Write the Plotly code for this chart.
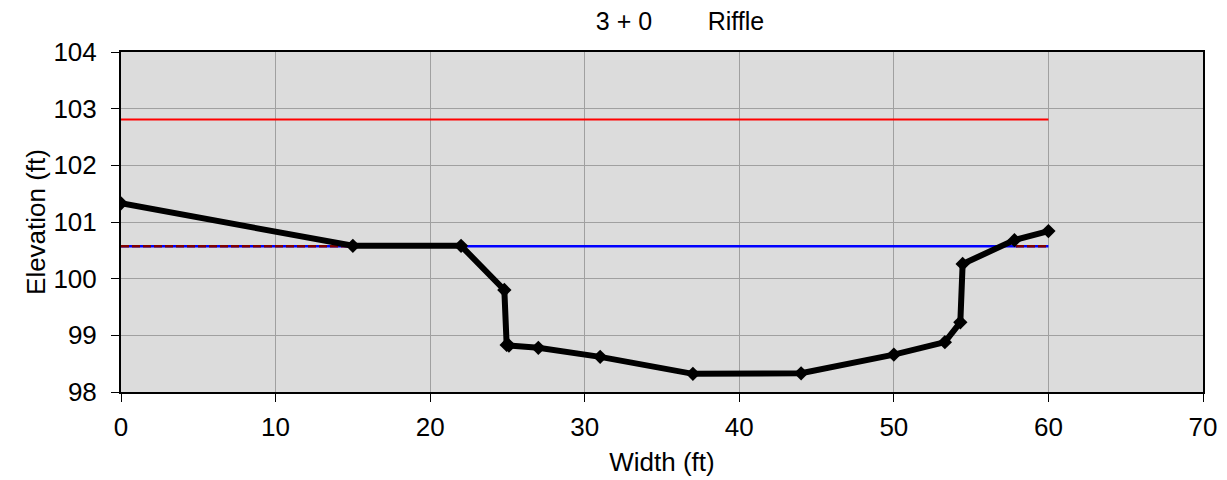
import plotly.graph_objects as go

station = [0, 15, 22, 24.8, 24.95, 25.1, 27, 31, 37, 44, 50, 53.3, 54.3, 54.45, 57.8, 60]
elevation = [101.33, 100.58, 100.58, 99.80, 98.83, 98.82, 98.78, 98.62, 98.32, 98.33, 98.66, 98.88, 99.23, 100.26, 100.68, 100.84]

water_x = [0, 60]
water_y = [100.57, 100.57]
flood_x = [0, 60]
flood_y = [102.81, 102.81]
bank_x = [0, 22, None, 57.9, 60]
bank_y = [100.57, 100.57, None, 100.57, 100.57]

x_ticks = [0, 10, 20, 30, 40, 50, 60, 70]
y_ticks = [98, 99, 100, 101, 102, 103, 104]

fig = go.Figure()
fig.add_trace(go.Scatter(x=flood_x, y=flood_y, mode="lines", line=dict(color="#ff0000", width=2), showlegend=False))
fig.add_trace(go.Scatter(x=water_x, y=water_y, mode="lines", line=dict(color="#0000ff", width=2.5), showlegend=False))
fig.add_trace(go.Scatter(x=bank_x, y=bank_y, mode="lines", line=dict(color="#800000", width=2.5, dash="8px,3px"), showlegend=False))
fig.add_trace(go.Scatter(x=station, y=elevation, mode="lines+markers",
                         line=dict(color="black", width=6),
                         marker=dict(symbol="diamond", size=11, color="black"),
                         showlegend=False))

fig.update_layout(
    width=1219, height=472,
    margin=dict(l=113, r=24, t=44, b=88),
    paper_bgcolor="white", plot_bgcolor="#dcdcdc",
    font=dict(family="Liberation Sans, Arial, sans-serif", color="black"),
    title=dict(text="3 + 0" + "\u00a0" * 8 + "Riffle", x=(680 - 8) / 1219, xanchor="center",
               y=1 - (21 - 8) / 472, yanchor="middle", font=dict(size=25)),
)
fig.update_xaxes(range=[0, 70], tickvals=x_ticks, showgrid=True, gridcolor="#a0a0a0", gridwidth=1,
                 showline=True, linecolor="black", linewidth=2, mirror=True, ticks="outside",
                 ticklen=8, tickwidth=1, tickcolor="black", tickfont=dict(size=26), zeroline=False,
                 ticklabelstandoff=3, automargin=False,
                 title=dict(text="Width (ft)", font=dict(size=26), standoff=12))
fig.update_yaxes(range=[98, 104], tickvals=y_ticks, showgrid=True, gridcolor="#a0a0a0", gridwidth=1,
                 showline=True, linecolor="black", linewidth=2, mirror=True, ticks="outside",
                 ticklen=8, tickwidth=1, tickcolor="black", tickfont=dict(size=26), zeroline=False,
                 ticklabelstandoff=9, automargin=False,
                 title=dict(text="Elevation (ft)", font=dict(size=26), standoff=0))

fig.write_html("out.html")
